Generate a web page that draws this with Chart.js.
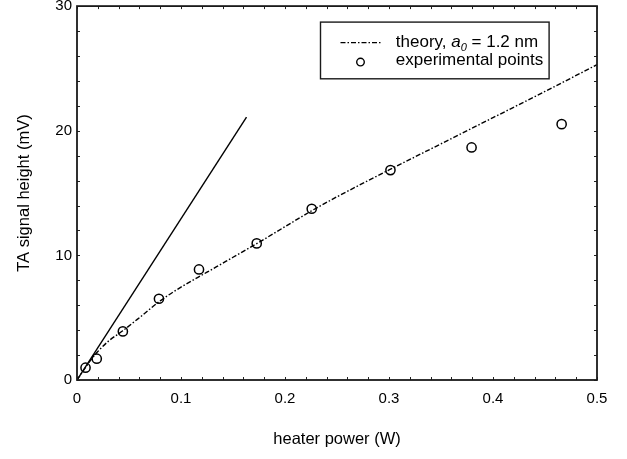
<!DOCTYPE html>
<html><head><meta charset="utf-8">
<script src="https://cdn.jsdelivr.net/npm/chart.js@4.4.0/dist/chart.umd.min.js"></script>
<style>html,body{margin:0;padding:0;background:#fff;}#wrap{width:627px;height:459px;}</style>
</head><body><div id="wrap"><canvas id="c" width="627" height="459"></canvas></div>
<script>
// ---- data ----
const xTickValues = [0, 0.1, 0.2, 0.3, 0.4, 0.5];
const xTickLabels = ['0', '0.1', '0.2', '0.3', '0.4', '0.5'];
const yTickValues = [0, 10, 20, 30];
const yTickLabels = ['0', '10', '20', '30'];

const expPower  = [0.0082, 0.019, 0.0441, 0.0788, 0.1173, 0.1728, 0.2257, 0.3014, 0.3794, 0.466];
const expSignal = [0.99, 1.71, 3.9, 6.52, 8.87, 10.96, 13.74, 16.84, 18.66, 20.53];

const theoryPower  = [0, 0.005, 0.01, 0.015, 0.02, 0.03, 0.044, 0.06, 0.08, 0.1, 0.125, 0.15, 0.175, 0.2, 0.225, 0.25, 0.3, 0.35, 0.4, 0.45, 0.5];
const theorySignal = [0, 0.62, 1.22, 1.78, 2.28, 3.1, 3.95, 5.0, 6.35, 7.45, 8.65, 9.85, 11.05, 12.3, 13.55, 14.7, 16.85, 18.95, 21.05, 23.15, 25.3];

const linearPower  = [0, 0.163];
const linearSignal = [0, 21.1];

const FONT = '"Liberation Sans", Arial, Helvetica, sans-serif';
const INK = '#000';
const DASHDOT = [5, 2, 1.5, 2];

const toPts = (xs, ys) => xs.map((x, i) => ({x: x, y: ys[i]}));

const decor = {
  id: 'decor',
  afterDatasetsDraw(chart) {
    const {ctx, chartArea: ca, scales: {x, y}} = chart;
    ctx.save();
    // minor ticks, inward on all four sides
    ctx.strokeStyle = '#222';
    ctx.lineWidth = 1;
    ctx.beginPath();
    for (let k = 0; k <= 25; k++) {
      const px = Math.round(x.getPixelForValue(k * 0.02)) + 0.5;
      ctx.moveTo(px, ca.bottom); ctx.lineTo(px, ca.bottom - 3);
      ctx.moveTo(px, ca.top); ctx.lineTo(px, ca.top + 3);
    }
    for (let k = 0; k <= 15; k++) {
      const py = Math.round(y.getPixelForValue(k * 2)) + 0.5;
      ctx.moveTo(ca.left, py); ctx.lineTo(ca.left + 3, py);
      ctx.moveTo(ca.right, py); ctx.lineTo(ca.right - 3, py);
    }
    ctx.stroke();
    // frame
    ctx.lineWidth = 1.8;
    ctx.strokeStyle = '#1a1a1a';
    ctx.strokeRect(ca.left, ca.top, ca.right - ca.left, ca.bottom - ca.top);

    // legend
    const bx = ca.left + 243.5, by = ca.top + 16, bw = 228.6, bh = 56.7;
    ctx.fillStyle = '#fff';
    ctx.fillRect(bx, by, bw, bh);
    ctx.lineWidth = 1.4;
    ctx.strokeStyle = '#1a1a1a';
    ctx.strokeRect(bx, by, bw, bh);
    // line sample
    ctx.setLineDash(DASHDOT);
    ctx.lineWidth = 1.4;
    ctx.strokeStyle = INK;
    ctx.beginPath();
    ctx.moveTo(bx + 20, by + 20.5); ctx.lineTo(bx + 61, by + 20.5);
    ctx.stroke();
    ctx.setLineDash([]);
    // marker sample
    ctx.beginPath();
    ctx.arc(bx + 40, by + 40, 3.8, 0, Math.PI * 2);
    ctx.lineWidth = 1.4;
    ctx.stroke();
    // texts
    ctx.fillStyle = INK;
    ctx.textBaseline = 'alphabetic';
    ctx.textAlign = 'left';
    let tx = bx + 75.3;
    const b1 = by + 24.5, b2 = by + 42.5;
    ctx.font = '17px ' + FONT;
    ctx.fillText('theory, ', tx, b1);
    tx += ctx.measureText('theory, ').width;
    ctx.font = 'italic 17px ' + FONT;
    ctx.fillText('a', tx, b1);
    tx += ctx.measureText('a').width;
    ctx.font = 'italic 11px ' + FONT;
    ctx.fillText('0', tx, b1 + 4);
    tx += ctx.measureText('0').width;
    ctx.font = '17px ' + FONT;
    ctx.fillText(' = 1.2 nm', tx, b1);
    ctx.fillText('experimental points', bx + 75.3, b2);
    ctx.restore();
  }
};

new Chart(document.getElementById('c').getContext('2d'), {
  type: 'scatter',
  data: {
    datasets: [
      {
        label: 'theory, a0 = 1.2 nm',
        data: toPts(theoryPower, theorySignal),
        showLine: true,
        borderColor: INK,
        borderWidth: 1.4,
        borderDash: DASHDOT,
        pointRadius: 0,
        cubicInterpolationMode: 'monotone',
        fill: false
      },
      {
        label: 'linear',
        data: toPts(linearPower, linearSignal),
        showLine: true,
        borderColor: INK,
        borderWidth: 1.4,
        pointRadius: 0,
        fill: false
      },
      {
        label: 'experimental points',
        data: toPts(expPower, expSignal),
        showLine: false,
        pointStyle: 'circle',
        pointRadius: 4.6,
        pointBorderWidth: 1.5,
        pointBorderColor: INK,
        pointBackgroundColor: 'rgba(0,0,0,0)',
        borderColor: INK,
        backgroundColor: 'rgba(0,0,0,0)'
      }
    ]
  },
  options: {
    responsive: false,
    animation: false,
    devicePixelRatio: 1,
    layout: {padding: {left: 0, right: 30, top: 6, bottom: 0}},
    plugins: {legend: {display: false}, tooltip: {enabled: false}},
    scales: {
      x: {
        type: 'linear', min: 0, max: 0.5,
        afterBuildTicks: s => { s.ticks = xTickValues.map(v => ({value: v})); },
        ticks: {
          callback: (v) => xTickLabels[xTickValues.indexOf(v)],
          font: {family: FONT, size: 15}, color: INK, padding: 10,
          maxRotation: 0, autoSkip: false
        },
        grid: {display: false, drawTicks: false},
        border: {display: false},
        title: {display: true, text: 'heater power (W)', color: INK,
                font: {family: FONT, size: 16.5}, padding: {top: 0, bottom: 10}},
        afterFit: s => { s.height = 79; s.paddingLeft = 0; s.paddingRight = 0; }
      },
      y: {
        type: 'linear', min: 0, max: 30,
        afterBuildTicks: s => { s.ticks = yTickValues.map(v => ({value: v})); },
        ticks: {
          callback: (v) => yTickLabels[yTickValues.indexOf(v)],
          font: {family: FONT, size: 15}, color: INK, padding: 5, autoSkip: false
        },
        grid: {display: false, drawTicks: false},
        border: {display: false},
        title: {display: true, text: 'TA signal height (mV)', color: INK,
                font: {family: FONT, size: 16.5}, padding: {top: 14.5, bottom: 0}},
        afterFit: s => { s.width = 77; s.paddingTop = 0; s.paddingBottom = 0; }
      }
    }
  },
  plugins: [decor]
});
</script>
</body></html>
